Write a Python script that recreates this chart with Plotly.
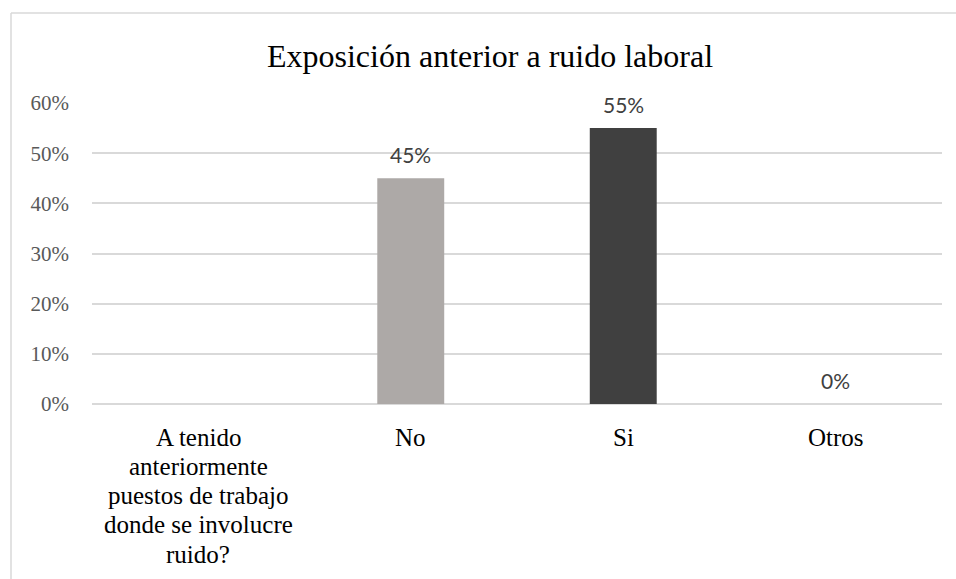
import plotly.graph_objects as go

# Survey responses: previous exposure to workplace noise
categories = [
    "A tenido anteriormente puestos de trabajo donde se involucre ruido?",
    "No",
    "Si",
    "Otros",
]
category_lines = [
    ["A tenido", "anteriormente", "puestos de trabajo", "donde se involucre", "ruido?"],
    ["No"],
    ["Si"],
    ["Otros"],
]
values = [None, 0.45, 0.55, 0.0]
bar_colors = ["#ADA9A7", "#ADA9A7", "#404040", "#404040"]
y_ticks = [0, 0.1, 0.2, 0.3, 0.4, 0.5, 0.6]
y_tick_labels = ["0%", "10%", "20%", "30%", "40%", "50%", "60%"]

W, H = 956, 579
L, R, T, B = 92, 14, 103, 175
pw, ph = W - L - R, H - T - B

SERIF = "Liberation Serif, Times New Roman, serif"

fig = go.Figure()
fig.add_trace(go.Bar(
    x=categories,
    y=values,
    marker=dict(color=bar_colors, line=dict(width=0)),
    width=0.315,
    hoverinfo="skip",
))

# value labels above each bar
for cat, v in zip(categories, values):
    if v is None:
        continue
    fig.add_annotation(
        x=cat, y=v, xref="x", yref="y",
        text=f"{round(v * 100)}%",
        showarrow=False, yshift=24,
        font=dict(family="Lato, Noto Sans, sans-serif", size=21, color="#404040"),
    )

# category labels, one annotation per line for tighter line spacing
line_gap = 29.3
for cat, lines in zip(categories, category_lines):
    for i, line in enumerate(lines):
        fig.add_annotation(
            x=cat, y=0, xref="x", yref="y",
            text=line, showarrow=False,
            yanchor="middle", yshift=-(33 + i * line_gap),
            font=dict(family=SERIF, size=25, color="#000000"),
        )

# chart frame (left and top edges)
fx0 = (11 - L) / pw
fy_top = 1 + (T - 13) / ph
fy_bot = -(B + 5) / ph
frame = dict(color="#D9D9D9", width=1.5)
fig.add_shape(type="line", xref="paper", yref="paper", x0=fx0, x1=fx0, y0=fy_bot, y1=fy_top, line=frame)
fig.add_shape(type="line", xref="paper", yref="paper", x0=fx0, x1=1 + (R + 5) / pw, y0=fy_top, y1=fy_top, line=frame)

fig.update_layout(
    width=W, height=H,
    margin=dict(l=L, r=R, t=T, b=B),
    paper_bgcolor="white", plot_bgcolor="white",
    showlegend=False,
    title=dict(
        text="Exposición anterior a ruido laboral",
        x=490 / W, xref="container", xanchor="center",
        y=1 - 56 / H, yanchor="middle",
        font=dict(family=SERIF, size=32, color="#000000"),
    ),
    xaxis=dict(
        showline=False, showgrid=False, ticks="",
        showticklabels=False,
    ),
    yaxis=dict(
        range=[0, 0.6],
        tickvals=y_ticks, ticktext=y_tick_labels,
        showgrid=True, gridcolor="#D9D9D9", gridwidth=1.5,
        zeroline=True, zerolinecolor="#D9D9D9", zerolinewidth=1.5,
        showline=False, ticks="",
        tickfont=dict(family=SERIF, size=21, color="#595959"),
        ticklabelstandoff=22,
    ),
)

fig.write_html("out.html")
